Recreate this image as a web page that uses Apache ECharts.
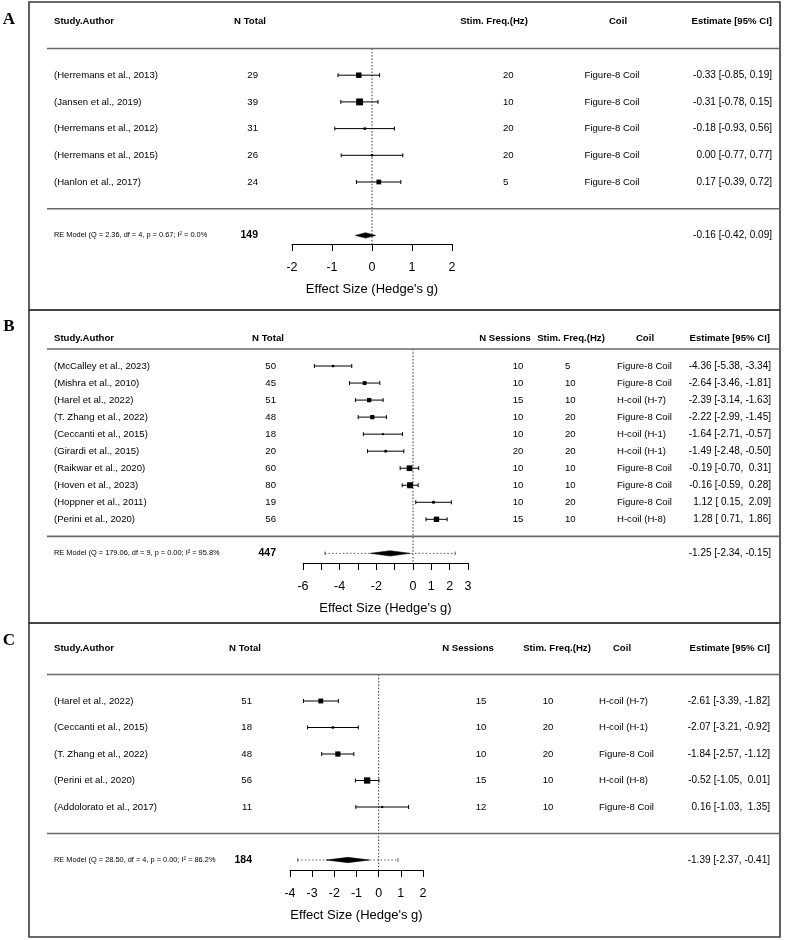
<!DOCTYPE html>
<html><head><meta charset="utf-8">
<script src="https://cdn.jsdelivr.net/npm/echarts@6/dist/echarts.min.js"></script>
<style>html,body{margin:0;padding:0;background:#fff}#c{width:800px;height:940px}</style>
</head><body><div id="c"></div>
<script>
// ---------- Panel A data ----------
const A_STUDY = ["(Herremans et al., 2013)","(Jansen et al., 2019)","(Herremans et al., 2012)","(Herremans et al., 2015)","(Hanlon et al., 2017)"];
const A_N = [29,39,31,26,24];
const A_FREQ = [20,10,20,20,5];
const A_COIL = ["Figure-8 Coil","Figure-8 Coil","Figure-8 Coil","Figure-8 Coil","Figure-8 Coil"];
const A_EST = [-0.33,-0.31,-0.18,0.00,0.17];
const A_LO = [-0.85,-0.78,-0.93,-0.77,-0.39];
const A_HI = [0.19,0.15,0.56,0.77,0.72];
const A_RE_TEXT = "RE Model (Q = 2.36, df = 4, p = 0.67; I\u00B2 = 0.0%";
const A_RE_N = 149;
const A_RE = [-0.16,-0.42,0.09];
const A_PI = null;
const A_Q = 2.36;
const A_TICKS = [-2,-1,0,1,2];
const A_TICK_LABELS = [-2,-1,0,1,2];

// ---------- Panel B data ----------
const B_STUDY = ["(McCalley et al., 2023)","(Mishra et al., 2010)","(Harel et al., 2022)","(T. Zhang et al., 2022)","(Ceccanti et al., 2015)","(Girardi et al., 2015)","(Raikwar et al., 2020)","(Hoven et al., 2023)","(Hoppner et al., 2011)","(Perini et al., 2020)"];
const B_N = [50,45,51,48,18,20,60,80,19,56];
const B_SESS = [10,10,15,10,10,20,10,10,10,15];
const B_FREQ = [5,10,10,20,20,20,10,10,20,10];
const B_COIL = ["Figure-8 Coil","Figure-8 Coil","H-coil (H-7)","Figure-8 Coil","H-coil (H-1)","H-coil (H-1)","Figure-8 Coil","Figure-8 Coil","Figure-8 Coil","H-coil (H-8)"];
const B_EST = [-4.36,-2.64,-2.39,-2.22,-1.64,-1.49,-0.19,-0.16,1.12,1.28];
const B_LO = [-5.38,-3.46,-3.14,-2.99,-2.71,-2.48,-0.70,-0.59,0.15,0.71];
const B_HI = [-3.34,-1.81,-1.63,-1.45,-0.57,-0.50,0.31,0.28,2.09,1.86];
const B_RE_TEXT = "RE Model (Q = 179.06, df = 9, p = 0.00; I\u00B2 = 95.8%";
const B_RE_N = 447;
const B_RE = [-1.25,-2.34,-0.15];
const B_PI = [-4.80,2.30];
const B_Q = 179.06;
const B_TICKS = [-6,-5,-4,-3,-2,-1,0,1,2,3];
const B_TICK_LABELS = [-6,-4,-2,0,1,2,3];

// ---------- Panel C data ----------
const C_STUDY = ["(Harel et al., 2022)","(Ceccanti et al., 2015)","(T. Zhang et al., 2022)","(Perini et al., 2020)","(Addolorato et al., 2017)"];
const C_N = [51,18,48,56,11];
const C_SESS = [15,10,10,15,12];
const C_FREQ = [10,20,20,10,10];
const C_COIL = ["H-coil (H-7)","H-coil (H-1)","Figure-8 Coil","H-coil (H-8)","Figure-8 Coil"];
const C_EST = [-2.61,-2.07,-1.84,-0.52,0.16];
const C_LO = [-3.39,-3.21,-2.57,-1.05,-1.03];
const C_HI = [-1.82,-0.92,-1.12,0.01,1.35];
const C_RE_TEXT = "RE Model (Q = 28.50, df = 4, p = 0.00; I\u00B2 = 86.2%";
const C_RE_N = 184;
const C_RE = [-1.39,-2.37,-0.41];
const C_PI = [-3.65,0.87];
const C_Q = 28.50;
const C_TICKS = [-4,-3,-2,-1,0,1,2];
const C_TICK_LABELS = [-4,-3,-2,-1,0,1,2];

const AXIS_TITLE = "Effect Size (Hedge's g)";
const FONT = '"Liberation Sans", Arial, Helvetica, sans-serif';
const SERIF = '"Liberation Serif", "Times New Roman", serif';

// ---------- helpers ----------
function padCol(arr){ const s = arr.map(v => v.toFixed(2)); const w = Math.max(...s.map(x => x.length)); return s.map(x => x.padStart(w, ' ')); }
function annots(est, lo, hi, re){
  const e = padCol(est.concat([re[0]])), l = padCol(lo.concat([re[1]])), h = padCol(hi.concat([re[2]]));
  return e.map((x, i) => x + ' [' + l[i] + ', ' + h[i] + ']');
}
function cexFromCI(lo, hi, Q){
  const v = lo.map((l, i) => Math.pow((hi[i] - l) / (2 * 1.96), 2));
  const w0 = v.map(x => 1 / x);
  const sw = w0.reduce((a, b) => a + b, 0), sw2 = w0.reduce((a, b) => a + b * b, 0);
  const tau2 = Math.max(0, (Q - (lo.length - 1)) / (sw - sw2 / sw));
  const w = v.map(x => 1 / (x + tau2));
  const mn = Math.min(...w), mx = Math.max(...w);
  return w.map(x => 0.5 + (x - mn) / (mx - mn));
}
function T(text, x, y, align, bold, size, family){
  return { type: 'text', style: { text: String(text), x: x, y: y, fill: '#000', fontSize: size,
    fontFamily: family || FONT, fontWeight: bold ? 'bold' : 'normal',
    align: align, verticalAlign: 'middle', textAlign: align, textVerticalAlign: 'middle' } };
}

// ---------- panels (data + layout) ----------
const PANELS = [
  { id: 'A', study: A_STUDY, est: A_EST, lo: A_LO, hi: A_HI, re: A_RE, pi: A_PI, Q: A_Q, reText: A_RE_TEXT, reN: A_RE_N,
    ticks: A_TICKS, tickLabels: A_TICK_LABELS,
    cols: [
      { h: 'Study.Author', hx: 54, ha: 'left', v: A_STUDY, vx: 54, va: 'left' },
      { h: 'N Total', hx: 250, ha: 'center', v: A_N, vx: 258, va: 'right' },
      { h: 'Stim. Freq.(Hz)', hx: 494, ha: 'center', v: A_FREQ, vx: 503, va: 'left' },
      { h: 'Coil', hx: 618, ha: 'center', v: A_COIL, vx: 612, va: 'center' }
    ],
    L: { box: [29, 2, 780, 310], letterY: 20, xpx: [292, 452], row1: 182, step: 26.7, axisY: 244, topY: 8,
         headerRow: 7, lineTop: 6, unit: 4.6, nRight: 258, estRight: 772, estHeadRight: 772 } },
  { id: 'B', study: B_STUDY, est: B_EST, lo: B_LO, hi: B_HI, re: B_RE, pi: B_PI, Q: B_Q, reText: B_RE_TEXT, reN: B_RE_N,
    ticks: B_TICKS, tickLabels: B_TICK_LABELS,
    cols: [
      { h: 'Study.Author', hx: 54, ha: 'left', v: B_STUDY, vx: 54, va: 'left' },
      { h: 'N Total', hx: 268, ha: 'center', v: B_N, vx: 276, va: 'right' },
      { h: 'N Sessions', hx: 505, ha: 'center', v: B_SESS, vx: 518, va: 'center' },
      { h: 'Stim. Freq.(Hz)', hx: 571, ha: 'center', v: B_FREQ, vx: 565, va: 'left' },
      { h: 'Coil', hx: 645, ha: 'center', v: B_COIL, vx: 617, va: 'left' }
    ],
    L: { box: [29, 310, 780, 623], letterY: 327, xpx: [303, 468], row1: 519.3, step: 17.03, axisY: 563, topY: 316,
         headerRow: 11.6, lineTop: 11, unit: 4.0, nRight: 276, estRight: 771, estHeadRight: 770 } },
  { id: 'C', study: C_STUDY, est: C_EST, lo: C_LO, hi: C_HI, re: C_RE, pi: C_PI, Q: C_Q, reText: C_RE_TEXT, reN: C_RE_N,
    ticks: C_TICKS, tickLabels: C_TICK_LABELS,
    cols: [
      { h: 'Study.Author', hx: 54, ha: 'left', v: C_STUDY, vx: 54, va: 'left' },
      { h: 'N Total', hx: 245, ha: 'center', v: C_N, vx: 252, va: 'right' },
      { h: 'N Sessions', hx: 468, ha: 'center', v: C_SESS, vx: 481, va: 'center' },
      { h: 'Stim. Freq.(Hz)', hx: 557, ha: 'center', v: C_FREQ, vx: 548, va: 'center' },
      { h: 'Coil', hx: 622, ha: 'center', v: C_COIL, vx: 599, va: 'left' }
    ],
    L: { box: [29, 623, 780, 937], letterY: 641, xpx: [290, 423], row1: 807, step: 26.5, axisY: 870, topY: 630,
         headerRow: 7, lineTop: 6, unit: 4.2, nRight: 252, estRight: 770, estHeadRight: 770 } }
];

const grids = [], xAxes = [], yAxes = [], series = [], graphics = [];

PANELS.forEach((P, gi) => {
  const L = P.L, k = P.est.length;
  const rowAt = p => 1 + (L.row1 - p) / L.step;
  const yMin = rowAt(L.axisY), yMax = rowAt(L.topY);
  const ann = annots(P.est, P.lo, P.hi, P.re);
  const cex = cexFromCI(P.lo, P.hi, P.Q);

  grids.push({ left: L.xpx[0], top: L.topY, width: L.xpx[1] - L.xpx[0], height: L.axisY - L.topY,
               containLabel: false, outerBoundsMode: 'none' });
  xAxes.push({ type: 'value', gridIndex: gi, min: P.ticks[0], max: P.ticks[P.ticks.length - 1],
    interval: P.ticks[1] - P.ticks[0], position: 'bottom',
    axisLine: { show: true, onZero: false, lineStyle: { color: '#000', width: 1 } },
    axisTick: { show: true, inside: false, length: 7, lineStyle: { color: '#000', width: 1 } },
    axisLabel: { show: true, color: '#000', fontSize: 12.5, fontFamily: FONT, margin: 17,
      showMinLabel: true, showMaxLabel: true,
      formatter: v => (P.tickLabels.indexOf(Math.round(v)) >= 0 ? String(Math.round(v)) : '') },
    splitLine: { show: false },
    name: AXIS_TITLE, nameLocation: 'middle', nameGap: 39, nameMoveOverlap: false,
    nameTextStyle: { color: '#000', fontSize: 13, fontFamily: FONT } });
  yAxes.push({ type: 'value', gridIndex: gi, min: yMin, max: yMax, show: false });

  // table texts and separators
  series.push({ type: 'custom', xAxisIndex: gi, yAxisIndex: gi, silent: true, z: 3, clip: false,
    data: [[0, 0]],
    renderItem: (params, api) => {
      const yOf = r => api.coord([0, r])[1];
      const ch = [];
      const yh = yOf(L.headerRow);
      P.cols.forEach(c => ch.push(T(c.h, c.hx, yh, c.ha, true, 9.6)));
      ch.push(T('Estimate [95% CI]', L.estHeadRight, yh, 'right', true, 9.6));
      for (let i = 0; i < k; i++) {
        const y = yOf(k - i);
        P.cols.forEach(c => ch.push(T(c.v[i], c.vx, y, c.va, false, 9.6)));
        ch.push(T(ann[i], L.estRight, y, 'right', false, 10));
      }
      const yr = yOf(-1);
      ch.push(T(P.reText, 54, yr, 'left', false, 7.4));
      ch.push(T(P.reN, L.nRight, yr, 'right', true, 10.5));
      ch.push(T(ann[k], L.estRight, yr, 'right', false, 10));
      [L.lineTop, 0].forEach(r => {
        const y = yOf(r);
        ch.push({ type: 'line', shape: { x1: 47, y1: y, x2: 780, y2: y }, style: { stroke: '#6a6a6a', lineWidth: 1.6 } });
      });
      return { type: 'group', children: ch };
    } });

  // zero reference line
  series.push({ type: 'custom', xAxisIndex: gi, yAxisIndex: gi, silent: true, z: 2, clip: false,
    data: [[0, L.lineTop]],
    renderItem: (params, api) => {
      const a = api.coord([0, L.lineTop]), b = api.coord([0, yMin]);
      return { type: 'line', shape: { x1: a[0], y1: a[1], x2: b[0], y2: b[1] },
        style: { stroke: '#333', lineWidth: 1, lineDash: [1.5, 1.8] } };
    } });

  // study estimates with CIs
  series.push({ type: 'custom', xAxisIndex: gi, yAxisIndex: gi, silent: true, z: 4, clip: false,
    data: P.est.map((e, i) => [e, k - i, P.lo[i], P.hi[i], cex[i]]),
    renderItem: (params, api) => {
      const r = api.value(1);
      const p = api.coord([api.value(0), r]);
      const pl = api.coord([api.value(2), r]);
      const ph = api.coord([api.value(3), r]);
      const s = api.value(4) * L.unit;
      const st = { stroke: '#000', lineWidth: 1 };
      return { type: 'group', children: [
        { type: 'line', shape: { x1: pl[0], y1: p[1], x2: ph[0], y2: p[1] }, style: st },
        { type: 'line', shape: { x1: pl[0], y1: p[1] - 2, x2: pl[0], y2: p[1] + 2 }, style: st },
        { type: 'line', shape: { x1: ph[0], y1: p[1] - 2, x2: ph[0], y2: p[1] + 2 }, style: st },
        { type: 'rect', shape: { x: p[0] - s / 2, y: p[1] - s / 2, width: s, height: s }, style: { fill: '#000' } }
      ] };
    } });

  // summary diamond + prediction interval
  series.push({ type: 'custom', xAxisIndex: gi, yAxisIndex: gi, silent: true, z: 4, clip: false,
    data: [[P.re[0], -1, P.re[1], P.re[2], P.pi ? P.pi[0] : P.re[1], P.pi ? P.pi[1] : P.re[2]]],
    renderItem: (params, api) => {
      const pe = api.coord([api.value(0), -1]);
      const pl = api.coord([api.value(2), -1]);
      const ph = api.coord([api.value(3), -1]);
      const ch = [];
      if (P.pi) {
        const a = api.coord([api.value(4), -1]), b = api.coord([api.value(5), -1]);
        const st = { stroke: '#555', lineWidth: 1, lineDash: [1.4, 2.2] };
        ch.push({ type: 'line', shape: { x1: a[0], y1: a[1], x2: b[0], y2: b[1] }, style: st });
        ch.push({ type: 'line', shape: { x1: a[0], y1: a[1] - 1.8, x2: a[0], y2: a[1] + 1.8 }, style: { stroke: '#555', lineWidth: 1 } });
        ch.push({ type: 'line', shape: { x1: b[0], y1: b[1] - 1.8, x2: b[0], y2: b[1] + 1.8 }, style: { stroke: '#555', lineWidth: 1 } });
      }
      const h = 2.7;
      ch.push({ type: 'polygon', shape: { points: [[pl[0], pe[1]], [pe[0], pe[1] - h], [ph[0], pe[1]], [pe[0], pe[1] + h]] },
        style: { fill: '#000', stroke: '#000', lineWidth: 0.5 } });
      return { type: 'group', children: ch };
    } });

  // frame and panel letter
  const b = L.box;
  graphics.push({ type: 'rect', shape: { x: b[0], y: b[1], width: b[2] - b[0], height: b[3] - b[1] },
    style: { fill: 'none', stroke: '#3a3a3a', lineWidth: 1.6 }, silent: true, z: 1 });
  graphics.push({ type: 'text', x: 9, y: L.letterY, silent: true,
    style: { text: P.id, fill: '#000', fontSize: 17, fontWeight: 'bold', fontFamily: SERIF,
      align: 'center', verticalAlign: 'middle', textAlign: 'center', textVerticalAlign: 'middle' } });
});

const chart = echarts.init(document.getElementById('c'), null, { renderer: 'canvas', width: 800, height: 940 });
chart.setOption({
  animation: false,
  backgroundColor: '#fff',
  grid: grids,
  xAxis: xAxes,
  yAxis: yAxes,
  series: series,
  graphic: { elements: graphics }
});
</script>
</body></html>
